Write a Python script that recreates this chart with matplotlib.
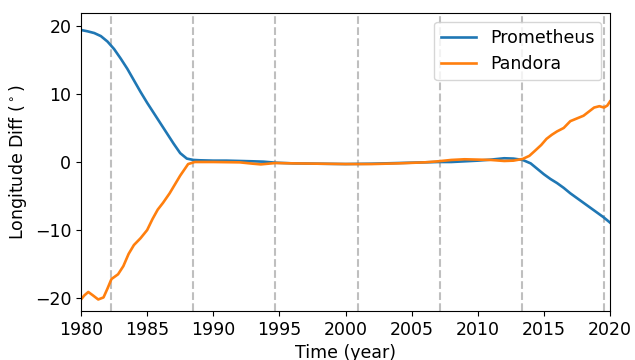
import numpy as np
import matplotlib
matplotlib.use("Agg")
import matplotlib.pyplot as plt

# longitude difference of each moon from its mean orbit
prom_t = [1980, 1980.5, 1981, 1981.5, 1982, 1982.5, 1983, 1983.5, 1984, 1984.5,
          1985, 1985.5, 1986, 1986.5, 1987, 1987.5, 1988, 1988.5, 1989, 1990,
          1991, 1992, 1993, 1993.8, 1994.7, 1996, 1998, 2000, 2002, 2004,
          2006, 2007, 2008, 2009, 2010, 2011, 2012, 2012.7, 2013.4, 2014,
          2014.5, 2015, 2015.5, 2016, 2016.5, 2017, 2017.5, 2018, 2018.5, 2019,
          2019.5, 2020]
prom_v = [19.4, 19.2, 18.95, 18.5, 17.7, 16.6, 15.2, 13.7, 12.0, 10.3,
          8.7, 7.2, 5.7, 4.2, 2.7, 1.3, 0.5, 0.3, 0.25, 0.2,
          0.2, 0.15, 0.1, 0.05, -0.1, -0.2, -0.25, -0.3, -0.25, -0.15,
          -0.05, 0.0, 0.0, 0.1, 0.2, 0.35, 0.55, 0.5, 0.3, -0.2,
          -1.0, -1.8, -2.5, -3.1, -3.8, -4.6, -5.3, -6.0, -6.7, -7.4,
          -8.1, -8.9]

pan_t = [1980, 1980.25, 1980.55, 1980.9, 1981.3, 1981.7, 1982, 1982.3, 1982.8, 1983.2,
         1983.6, 1984, 1984.5, 1985, 1985.4, 1985.8, 1986.2, 1986.7, 1987.1, 1987.5,
         1988.1, 1988.6, 1990, 1992, 1993, 1993.6, 1994.7, 1996, 1998, 2000,
         2002, 2004, 2006, 2007, 2008, 2009, 2010, 2011, 2012, 2012.7,
         2013.4, 2013.9, 2014.3, 2014.8, 2015.2, 2015.6, 2016, 2016.5, 2017, 2017.5,
         2018, 2018.4, 2018.8, 2019.2, 2019.55, 2019.8, 2020]
pan_v = [-20.2, -19.6, -19.1, -19.6, -20.2, -19.9, -18.6, -17.2, -16.5, -15.3,
         -13.5, -12.2, -11.2, -10.0, -8.4, -7.0, -6.0, -4.6, -3.3, -2.0,
         -0.3, 0.0, 0.0, -0.05, -0.25, -0.35, -0.15, -0.2, -0.25, -0.3,
         -0.3, -0.2, -0.05, 0.1, 0.3, 0.4, 0.35, 0.3, 0.15, 0.2,
         0.45, 0.9, 1.6, 2.5, 3.4, 4.0, 4.5, 5.0, 6.0, 6.4,
         6.8, 7.4, 8.0, 8.2, 8.0, 8.3, 8.9]

# anti-alignment epochs (~6.2 yr apart)
events = [1982.25, 1988.47, 1994.69, 2000.91, 2007.13, 2013.35, 2019.57]

plt.rcParams['font.size'] = 12.5

fig = plt.figure(figsize=(6.35, 3.6), dpi=100)
ax = fig.add_axes([0.1276, 0.136, 0.833, 0.828])

for e in events:
    ax.axvline(e, color='gray', alpha=0.5, linestyle='--', linewidth=1.5)

ax.plot(prom_t, prom_v, color='#1f77b4', linewidth=1.9, label='Prometheus')
ax.plot(pan_t, pan_v, color='#ff7f0e', linewidth=1.9, label='Pandora')

ax.set_xlim(1980, 2020)
ax.set_ylim(-21.9, 21.9)
ax.set_xticks(np.arange(1980, 2021, 5))
ax.set_yticks([-20, -10, 0, 10, 20])
ax.set_xlabel('Time (year)')
ax.set_ylabel(r'Longitude Diff ($^\circ$)')
ax.legend(loc='upper right')

fig.savefig('out.png', dpi=100)
